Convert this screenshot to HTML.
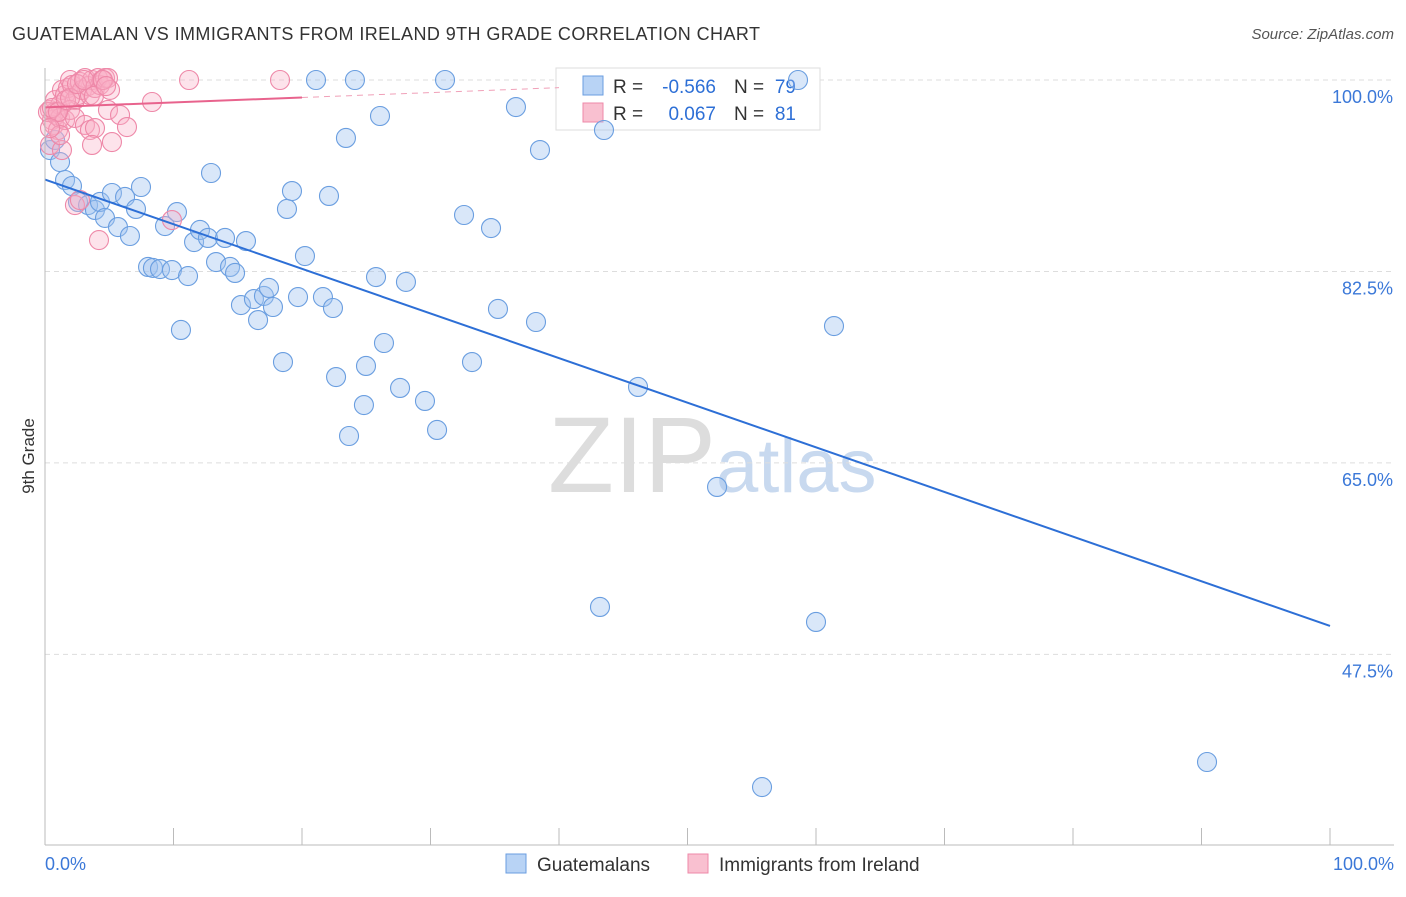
<!DOCTYPE html>
<html><head><meta charset="utf-8"><style>
body{margin:0;background:#fff;font-family:"Liberation Sans",sans-serif}
svg text{font-family:"Liberation Sans",sans-serif}
</style></head><body>
<svg id="c" width="1406" height="892" xmlns="http://www.w3.org/2000/svg">
<text x="12" y="40" font-size="18" fill="#333" textLength="748">GUATEMALAN VS IMMIGRANTS FROM IRELAND 9TH GRADE CORRELATION CHART</text>
<text x="1394" y="39" font-size="15" fill="#555" text-anchor="end" font-style="italic">Source: ZipAtlas.com</text>
<text x="34" y="456" font-size="17" fill="#333" text-anchor="middle" transform="rotate(-90 34 456)">9th Grade</text>
<text x="716" y="492" font-size="108" fill="#ddd" text-anchor="end" font-family="Liberation Serif">ZIP</text>
<text x="716" y="492" font-size="76" fill="#c8d9ef">atlas</text>
<g id="grid"></g>
<g>
<rect x="556" y="68" width="264" height="62" fill="#fff" stroke="#ddd"/>
<rect x="583" y="76" width="20" height="19" fill="#b8d3f5" stroke="#6a9ee0"/>
<rect x="583" y="103" width="20" height="19" fill="#f9c0d0" stroke="#ee88a8"/>
<text x="613" y="93" font-size="19" fill="#333">R =</text>
<text x="716" y="93" font-size="19" fill="#2d6fd6" text-anchor="end">-0.566</text>
<text x="734" y="93" font-size="19" fill="#333">N =</text>
<text x="796" y="93" font-size="19" fill="#2d6fd6" text-anchor="end">79</text>
<text x="613" y="120" font-size="19" fill="#333">R =</text>
<text x="716" y="120" font-size="19" fill="#2d6fd6" text-anchor="end">0.067</text>
<text x="734" y="120" font-size="19" fill="#333">N =</text>
<text x="796" y="120" font-size="19" fill="#2d6fd6" text-anchor="end">81</text>
</g>
<g id="marks"></g><g id="lines"></g>
<line x1="45" y1="68" x2="45" y2="845" stroke="#bbb"/>
<line x1="45" y1="845" x2="1394" y2="845" stroke="#bbb"/>
<text x="45" y="870" font-size="18" fill="#3b78d8">0.0%</text>
<text x="1394" y="870" font-size="18" fill="#3b78d8" text-anchor="end">100.0%</text>
<g>
<rect x="506" y="854" width="20" height="19" fill="#b8d3f5" stroke="#6a9ee0"/>
<text x="537" y="871" font-size="19" fill="#333">Guatemalans</text>
<rect x="688" y="854" width="20" height="19" fill="#f9c0d0" stroke="#ee88a8"/>
<text x="719" y="871" font-size="19" fill="#333">Immigrants from Ireland</text>
</g>
</svg>
<script>
const yTicks=[100,82.5,65,47.5];
const yTickLabels=["100.0%","82.5%","65.0%","47.5%"];
const bluePx=[[50,150],[55,140],[60,162],[65,180],[72,186],[78,202],[88,205],[95,210],[100,202],[105,218],[112,193],[118,227],[125,197],[130,236],[136,209],[141,187],[148,267],[153,268],[160,269],[165,226],[172,270],[177,212],[181,330],[188,276],[194,242],[200,230],[208,238],[211,173],[216,262],[225,238],[230,267],[235,273],[241,305],[246,241],[254,299],[258,320],[264,296],[269,288],[273,307],[283,362],[287,209],[292,191],[298,297],[305,256],[316,80],[323,297],[329,196],[333,308],[336,377],[346,138],[349,436],[355,80],[364,405],[366,366],[376,277],[380,116],[384,343],[400,388],[406,282],[425,401],[437,430],[445,80],[464,215],[472,362],[491,228],[498,309],[516,107],[536,322],[540,150],[600,607],[604,130],[638,387],[717,487],[762,787],[798,80],[816,622],[834,326],[1207,762]];
const pinkPx=[[50,110],[52,120],[54,125],[56,115],[58,130],[50,145],[55,100],[60,105],[62,90],[65,95],[68,88],[70,80],[72,85],[75,100],[78,95],[80,82],[82,90],[85,78],[88,86],[90,95],[92,80],[95,88],[98,78],[100,85],[102,80],[105,78],[108,78],[110,90],[55,112],[60,118],[65,120],[70,110],[75,118],[62,150],[75,205],[80,200],[85,125],[90,130],[95,128],[92,145],[99,240],[108,110],[112,142],[120,115],[127,127],[152,102],[172,220],[189,80],[280,80],[48,112],[52,108],[58,112],[66,100],[70,98],[77,84],[84,80],[94,96],[103,80],[106,86],[60,135],[50,128]];
const blueX=bluePx.map(p=>+((p[0]-45)/12.85).toFixed(2));
const blueY=bluePx.map(p=>+(100-(p[1]-80)/10.94).toFixed(2));
const pinkX=pinkPx.map(p=>+((p[0]-45)/12.85).toFixed(2));
const pinkY=pinkPx.map(p=>+(100-(p[1]-80)/10.94).toFixed(2));
const blueTrend=[90.9,50.1];
const pinkTrend=[97.5,98.4];
const sx=v=>45+v*12.85, sy=v=>80+(100-v)*10.94;
const NS="http://www.w3.org/2000/svg";
function mk(t,a,p){const e=document.createElementNS(NS,t);for(const k in a)e.setAttribute(k,a[k]);p.appendChild(e);return e;}
const grid=document.getElementById('grid'),marks=document.getElementById('marks'),lines=document.getElementById('lines');
yTicks.forEach((v,i)=>{
 const l=mk('line',{x1:45,x2:1394,y1:sy(v),y2:sy(v),stroke:'#ddd','stroke-dasharray':'5,4'},grid);
 
 
 const t=mk('text',{x:1393,y:sy(v)+23,'font-size':18,fill:'#3b78d8','text-anchor':'end'},grid);
 t.textContent=yTickLabels[i];
 
 
});
for(let i=1;i<=10;i++){
 const t=mk('line',{x1:sx(i*10),x2:sx(i*10),y1:828,y2:845,stroke:'#bbb'},grid);
 
 
}
blueX.forEach((x,i)=>{
 const c=mk('circle',{cx:sx(x),cy:sy(blueY[i]),r:9.5,fill:'rgba(160,196,240,0.4)',stroke:'#6a9ee0','stroke-width':1.1},marks);
 
 
});
pinkX.forEach((x,i)=>{
 const c=mk('circle',{cx:sx(x),cy:sy(pinkY[i]),r:9.5,fill:'rgba(248,176,198,0.35)',stroke:'#ee88a8','stroke-width':1.1},marks);
 
 
});
const bl=mk('line',{x1:sx(0),y1:sy(blueTrend[0]),x2:sx(100),y2:sy(blueTrend[1]),stroke:'#2d6fd6','stroke-width':2},lines);


const pm=v=>pinkTrend[0]+(pinkTrend[1]-pinkTrend[0])*v/20;
const pl=mk('line',{x1:sx(0),y1:sy(pm(0)),x2:sx(20),y2:sy(pm(20)),stroke:'#e8638d','stroke-width':2},lines);


const pd=mk('line',{x1:sx(20),y1:sy(pm(20)),x2:sx(40),y2:sy(pm(40)),stroke:'#f0a0b8','stroke-width':1,'stroke-dasharray':'6,5'},lines);


</script>
</body></html>
